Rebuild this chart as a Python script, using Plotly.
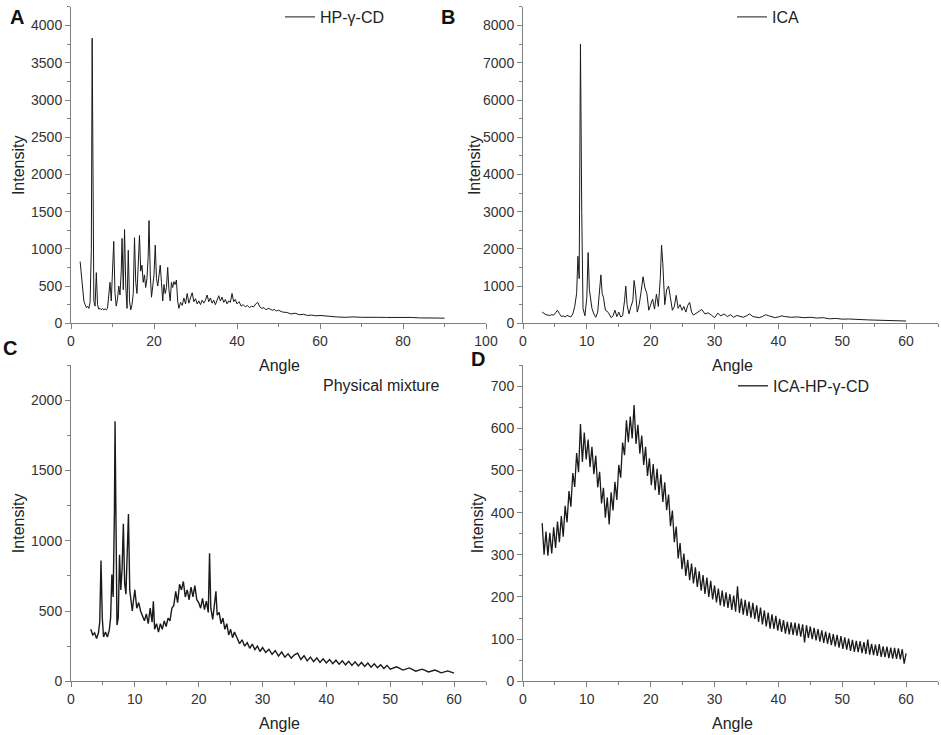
import plotly.graph_objects as go

# XRD patterns (angle = 2-theta, intensity in counts)

# A: HP-gamma-CD
hp_angle = [2.2, 2.5, 2.8, 3.1, 3.4, 3.7, 4.0, 4.3, 4.6, 4.9, 5.1, 5.3, 5.5, 5.8, 6.1, 6.4, 6.7, 7.0,
            7.3, 7.6, 7.9, 8.2, 8.5, 8.8, 9.1, 9.4, 9.7, 10.0, 10.3, 10.6, 10.9, 11.2, 11.5, 11.8,
            12.1, 12.3, 12.6, 12.9, 13.2, 13.5, 13.8, 14.1, 14.4, 14.7, 15.0, 15.3, 15.6, 15.9,
            16.2, 16.5, 16.8, 17.1, 17.4, 17.7, 18.0, 18.3, 18.6, 18.8, 19.1, 19.4, 19.7, 20.0,
            20.3, 20.6, 20.9, 21.2, 21.5, 21.8, 22.1, 22.4, 22.7, 23.0, 23.3, 23.6, 23.9, 24.2,
            24.5, 24.8, 25.1, 25.4, 25.7, 26.0, 26.4, 26.8, 27.2, 27.6, 28.0, 28.4, 28.8, 29.2,
            29.6, 30.0, 30.4, 30.8, 31.2, 31.6, 32.0, 32.4, 32.8, 33.2, 33.6, 34.0, 34.4, 34.8,
            35.2, 35.6, 36.0, 36.4, 36.8, 37.2, 37.6, 38.0, 38.4, 38.8, 39.2, 39.6, 40.0, 40.5,
            41.0, 41.5, 42.0, 42.5, 43.0, 43.5, 44.0, 44.5, 45.0, 45.5, 46.0, 46.5, 47.0, 47.5,
            48.0, 48.5, 49.0, 49.5, 50.0, 51, 52, 53, 54, 55, 56, 57, 58, 59, 60, 62, 64, 66, 68,
            70, 72, 74, 76, 78, 80, 82, 84, 86, 88, 90]
hp_int = [830, 650, 450, 300, 250, 210, 230, 200, 280, 1000, 3830, 1750, 300, 230, 680, 250, 190, 200,
          180, 200, 180, 195, 180, 200, 380, 550, 300, 700, 1100, 400, 230, 320, 500, 380,
          700, 1140, 450, 1260, 500, 200, 980, 300, 180, 250, 400, 1150, 550, 400,
          800, 1180, 700, 780, 550, 650, 480, 600, 900, 1380, 650, 350, 500, 650,
          1050, 600, 500, 620, 780, 550, 300, 520, 400, 480, 750, 450, 300, 550,
          480, 560, 520, 580, 300, 200, 280, 240, 340, 260, 400, 270, 330, 410,
          290, 330, 260, 300, 250, 310, 270, 310, 380, 290, 340, 270, 310, 250,
          310, 370, 300, 350, 280, 320, 260, 300, 280, 400, 290, 320, 260, 290,
          230, 250, 220, 240, 210, 230, 220, 260, 280, 220, 200, 210, 180, 200,
          190, 175, 185, 165, 175, 150, 145, 125, 135, 115, 120, 105, 110, 100, 105, 90, 85, 80, 85,
          80, 75, 80, 78, 80, 75, 78, 72, 75, 70, 68]

# B: ICA
ica_angle = [3.0, 3.3, 3.6, 3.9, 4.2, 4.5, 4.8, 5.1, 5.4, 5.7, 6.0, 6.3, 6.6, 6.9, 7.2, 7.5, 7.8, 8.1,
             8.4, 8.6, 8.8, 9.0, 9.2, 9.4, 9.7, 10.0, 10.2, 10.4, 10.6, 10.8, 11.1, 11.4, 11.7,
             12.0, 12.2, 12.4, 12.6, 12.9, 13.2, 13.5, 13.8, 14.1, 14.4, 14.7, 15.0, 15.3, 15.6,
             15.9, 16.1, 16.3, 16.6, 16.9, 17.2, 17.4, 17.6, 17.9, 18.2, 18.5, 18.8, 19.1, 19.4,
             19.7, 20.0, 20.3, 20.6, 20.9, 21.2, 21.5, 21.7, 21.9, 22.2, 22.5, 22.8, 23.1, 23.4,
             23.7, 24.0, 24.3, 24.6, 24.9, 25.2, 25.5, 25.8, 26.1, 26.4, 26.7, 27.0, 27.5, 28.0,
             28.5, 29.0, 29.5, 30.0, 30.5, 31.0, 31.5, 32.0, 32.5, 33.0, 33.5, 34.0, 34.5, 35.0,
             35.5, 36.0, 36.5, 37.0, 37.5, 38.0, 38.5, 39.0, 39.5, 40.0, 40.5, 41.0, 42.0, 43.0,
             44.0, 45.0, 46.0, 47.0, 48.0, 49.0, 50.0, 51, 52, 53, 54, 55, 56, 57, 58, 59, 60]
ica_int = [300, 260, 230, 220, 210, 230, 220, 280, 350, 260, 180, 200, 170, 210, 180, 170, 250, 450,
           800, 1800, 1200, 7500, 3000, 400, 200, 700, 1900, 900, 650, 400, 250, 160, 300,
           800, 1300, 800, 700, 350, 320, 250, 150, 200, 350, 180, 300, 170, 200,
           600, 1000, 500, 250, 450, 600, 1150, 900, 300, 500, 850, 1250, 950, 800,
           350, 500, 650, 380, 780, 450, 1200, 2100, 1600, 500, 900, 1000, 600, 350,
           450, 750, 400, 500, 350, 450, 300, 480, 560, 300, 220, 250, 300, 370,
           250, 280, 220, 150, 270, 200, 250, 180, 230, 160, 210, 190, 160, 200,
           250, 180, 160, 150, 180, 230, 200, 170, 150, 170, 200, 180, 160, 170,
           150, 160, 140, 150, 120, 130, 110, 115, 100, 95, 90, 85, 80, 75, 70, 65, 60]

# C: physical mixture
pm_angle = [3.1, 3.4, 3.7, 4.0, 4.3, 4.5, 4.7, 4.9, 5.1, 5.4, 5.7, 6.0, 6.2, 6.4, 6.6, 6.8, 6.9, 7.0,
            7.2, 7.4, 7.6, 7.8, 8.0, 8.2, 8.4, 8.6, 8.8, 9.0, 9.2, 9.4, 9.6, 9.8, 10.0, 10.3, 10.6,
            10.9, 11.2, 11.5, 11.8, 12.1, 12.4, 12.7, 12.9, 13.1, 13.4, 13.7, 14.0, 14.3, 14.6,
            14.9, 15.2, 15.5, 15.8, 16.1, 16.4, 16.7, 17.0, 17.3, 17.6, 17.9, 18.2, 18.5, 18.8,
            19.1, 19.4, 19.7, 20.0, 20.3, 20.6, 20.9, 21.2, 21.5, 21.7, 21.9, 22.2, 22.5, 22.7,
            22.9, 23.2, 23.5, 23.8, 24.1, 24.4, 24.7, 25.0, 25.3, 25.6, 26.0, 26.4, 26.8, 27.2,
            27.6, 28.0, 28.4, 28.8, 29.2, 29.6, 30.0, 30.5, 31.0, 31.5, 32.0, 32.5, 33.0, 33.5,
            34.0, 34.5, 35.0, 35.5, 36.0, 36.5, 37.0, 37.5, 38.0, 38.5, 39.0, 39.5, 40.0, 40.5,
            41.0, 41.5, 42.0, 42.5, 43.0, 43.5, 44.0, 44.5, 45.0, 45.5, 46.0, 46.5, 47.0, 47.5,
            48.0, 48.5, 49.0, 49.5, 50.0, 51.0, 52.0, 53.0, 54.0, 55.0, 56.0, 57.0, 58.0, 59.0, 60.0]
pm_int = [370, 330, 345, 305, 345, 420, 860, 450, 315, 350, 315, 365, 450, 760, 600, 1200, 1850, 1200,
          400, 450, 900, 650, 800, 1120, 700, 620, 900, 1190, 650, 560, 500, 580, 650, 520, 560,
          500, 470, 430, 480, 410, 520, 420, 570, 370, 410, 350, 410, 370, 430,
          390, 450, 430, 520, 540, 640, 560, 690, 650, 710, 600, 650, 580, 670,
          600, 680, 580, 560, 520, 590, 510, 570, 490, 910, 520, 440, 580, 640,
          470, 490, 410, 450, 370, 410, 330, 370, 310, 350, 310, 268, 295, 250,
          275, 235, 265, 225, 250, 212, 240, 205, 228, 192, 218, 180, 208, 172,
          196, 165, 188, 200, 155, 182, 145, 172, 140, 166, 134, 160, 130, 155,
          125, 150, 121, 146, 117, 142, 113, 138, 109, 134, 105, 130, 100, 124,
          96, 118, 91, 113, 86, 103, 80, 95, 72, 86, 66, 80, 60, 74, 58]

# D: ICA-HP-gamma-CD inclusion complex
ic_angle = [3.0, 3.3, 3.6, 3.9, 4.2, 4.5, 4.8, 5.1, 5.4, 5.7, 6.0, 6.3, 6.6, 6.9, 7.2, 7.5, 7.8, 8.1,
            8.4, 8.7, 9.0, 9.3, 9.6, 9.9, 10.2, 10.5, 10.8, 11.1, 11.4, 11.7, 12.0, 12.3, 12.6,
            12.9, 13.2, 13.5, 13.8, 14.1, 14.4, 14.7, 15.0, 15.3, 15.6, 15.9, 16.2, 16.5, 16.8,
            17.1, 17.4, 17.7, 18.0, 18.3, 18.6, 18.9, 19.2, 19.5, 19.8, 20.1, 20.4, 20.7, 21.0,
            21.3, 21.6, 21.9, 22.2, 22.5, 22.8, 23.1, 23.4, 23.7, 24.0, 24.3, 24.6, 24.9, 25.2,
            25.5, 25.8, 26.1, 26.4, 26.7, 27.0, 27.3, 27.6, 27.9, 28.2, 28.5, 28.8, 29.1, 29.4,
            29.7, 30.0, 30.3, 30.6, 30.9, 31.2, 31.5, 31.8, 32.1, 32.4, 32.7, 33.0, 33.3, 33.6,
            33.9, 34.2, 34.5, 34.8, 35.1, 35.4, 35.7, 36.0, 36.3, 36.6, 36.9, 37.2, 37.5, 37.8,
            38.1, 38.4, 38.7, 39.0, 39.3, 39.6, 39.9, 40.2, 40.5, 40.8, 41.1, 41.4, 41.7, 42.0,
            42.3, 42.6, 42.9, 43.2, 43.5, 43.8, 44.1, 44.4, 44.7, 45.0, 45.3, 45.6, 45.9, 46.2,
            46.5, 46.8, 47.1, 47.4, 47.7, 48.0, 48.3, 48.6, 48.9, 49.2, 49.5, 49.8, 50.1, 50.4,
            50.7, 51.0, 51.3, 51.6, 51.9, 52.2, 52.5, 52.8, 53.1, 53.4, 53.7, 54.0, 54.3, 54.6,
            54.9, 55.2, 55.5, 55.8, 56.1, 56.4, 56.7, 57.0, 57.3, 57.6, 57.9, 58.2, 58.5, 58.8,
            59.1, 59.4, 59.7, 60.0]
ic_int = [375, 300, 355, 298, 352, 303, 365, 316, 379, 330, 392, 343, 416, 377, 451, 414, 494, 461,
          541, 496, 610, 520, 590, 526, 573, 508, 556, 491, 535, 460, 497, 422, 459,
          388, 436, 372, 448, 405, 473, 430, 513, 483, 566, 536, 619, 567, 628,
          576, 655, 563, 608, 540, 583, 513, 556, 487, 529, 465, 515, 453, 504,
          442, 491, 425, 472, 406, 443, 368, 405, 330, 367, 291, 328, 266, 303,
          250, 288, 240, 279, 232, 270, 224, 261, 215, 252, 207, 246, 200, 238,
          194, 227, 187, 220, 180, 215, 177, 211, 174, 207, 169, 203, 165, 225,
          162, 196, 158, 193, 155, 189, 151, 186, 148, 180, 141, 175, 135, 168,
          130, 163, 125, 159, 124, 155, 120, 148, 117, 145, 113, 141, 111, 140,
          110, 139, 108, 137, 106, 135, 92, 133, 103, 130, 100, 127, 97, 124,
          94, 121, 91, 118, 89, 115, 86, 112, 83, 110, 80, 107, 77, 104,
          75, 101, 72, 98, 70, 96, 69, 95, 67, 93, 65, 99, 63, 89,
          62, 87, 60, 88, 58, 83, 57, 82, 55, 80, 54, 79, 53, 78,
          52, 76, 42, 66]

W, H = 941, 735
font_fam = "Arial, Liberation Sans, sans-serif"

fig = go.Figure()
fig.add_trace(go.Scatter(x=hp_angle, y=hp_int, mode="lines", name="HP-γ-CD",
                         line=dict(color="#1a1a1a", width=1), xaxis="x", yaxis="y", legend="legend"))
fig.add_trace(go.Scatter(x=ica_angle, y=ica_int, mode="lines", name="ICA",
                         line=dict(color="#1a1a1a", width=1), xaxis="x2", yaxis="y2", legend="legend2"))
fig.add_trace(go.Scatter(x=pm_angle, y=pm_int, mode="lines", name="Physical mixture",
                         line=dict(color="#1a1a1a", width=1.4), xaxis="x3", yaxis="y3", showlegend=False))
fig.add_trace(go.Scatter(x=ic_angle, y=ic_int, mode="lines", name="ICA-HP-γ-CD",
                         line=dict(color="#1a1a1a", width=1.3), xaxis="x4", yaxis="y4", legend="legend3"))

def px_x(p):
    return p / W

def px_y(p):
    return 1 - p / H

col_l = [px_x(71), px_x(486)]
col_r = [px_x(523), px_x(938)]
row_t = [px_y(321), px_y(3)]
row_b = [px_y(681), px_y(363)]

def ax(dom, rng, dtick, minor, anchor):
    return dict(domain=dom, range=rng, dtick=dtick, tick0=0, anchor=anchor,
                showline=True, linecolor="#808080", linewidth=1, mirror=False,
                showgrid=False, zeroline=False,
                ticks="outside", ticklen=5, tickcolor="#808080", tickwidth=1,
                minor=dict(ticks="outside", ticklen=3, dtick=minor, tickcolor="#808080"),
                tickfont=dict(family=font_fam, size=14, color="#333333"),
                automargin=False, fixedrange=True)

leg = dict(font=dict(family=font_fam, size=16, color="#222222"), bgcolor="rgba(0,0,0,0)",
           xanchor="left", yanchor="middle", borderwidth=0)

fig.update_layout(
    width=W, height=H,
    margin=dict(l=0, r=0, t=0, b=0),
    paper_bgcolor="white", plot_bgcolor="white",
    xaxis=ax(col_l, [0, 100], 20, 10, "y"),
    yaxis=ax(row_t, [0, 4250], 500, 250, "x"),
    xaxis2=ax(col_r, [0, 65], 10, 5, "y2"),
    yaxis2=ax(row_t, [0, 8500], 1000, 500, "x2"),
    xaxis3=ax(col_l, [0, 65], 10, 5, "y3"),
    yaxis3=ax(row_b, [0, 2250], 500, 250, "x3"),
    xaxis4=ax(col_r, [0, 65], 10, 5, "y4"),
    yaxis4=ax(row_b, [0, 750], 100, 50, "x4"),
    legend=dict(leg, x=px_x(280), y=px_y(13)),
    legend2=dict(leg, x=px_x(732), y=px_y(13)),
    legend3=dict(leg, x=px_x(733), y=px_y(384)),
)

notes = [
    ("A", 17, 13, 0, True, 20), ("B", 448, 13, 0, True, 20),
    ("C", 10, 346, 0, True, 20), ("D", 478, 357, 0, True, 20),
    ("Intensity", 18, 162, -90, False, 16), ("Intensity", 474, 162, -90, False, 16),
    ("Intensity", 18, 522, -90, False, 16), ("Intensity", 477, 522, -90, False, 16),
    ("Angle", 279, 363, 0, False, 16), ("Angle", 732, 363, 0, False, 16),
    ("Angle", 279, 723, 0, False, 16), ("Angle", 732, 723, 0, False, 16),
]
for txt, x, y, ang, bold, sz in notes:
    fig.add_annotation(text=f"<b>{txt}</b>" if bold else txt, x=px_x(x), y=px_y(y),
                       xref="paper", yref="paper", showarrow=False, textangle=ang,
                       xanchor="center", yanchor="middle",
                       font=dict(family=font_fam, size=sz, color="#111111" if bold else "#222222"))
fig.add_annotation(text="Physical mixture", x=px_x(321), y=px_y(384), xref="paper", yref="paper",
                   showarrow=False, xanchor="left", yanchor="middle",
                   font=dict(family=font_fam, size=16, color="#222222"))

fig.write_html("out.html", config={"displayModeBar": False},
               post_script="document.body.style.margin='0';")
